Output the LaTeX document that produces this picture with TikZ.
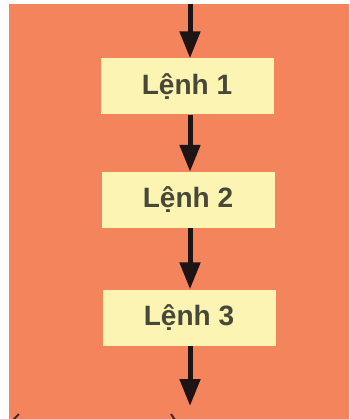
\documentclass[tikz,border=0pt]{standalone}
\usepackage{fontspec}
\setmainfont{Liberation Sans}
\usetikzlibrary{arrows.meta}
\definecolor{bgorange}{RGB}{244,132,91}
\definecolor{boxyellow}{RGB}{251,244,178}
\definecolor{txtgray}{RGB}{72,72,56}
\definecolor{arrowdark}{RGB}{30,20,20}
\begin{document}
\begin{tikzpicture}[x=1pt,y=-1pt,
  cmdbox/.style={fill=boxyellow, draw=none, minimum width=173pt, minimum height=56pt,
    inner sep=0pt, text=txtgray, font=\bfseries\fontsize{28}{30}\selectfont},
  flowarrow/.style={draw=arrowdark, line width=5pt,
    -{Triangle[width=20pt,length=27pt]}}]
\useasboundingbox (0,0) rectangle (349,419);
\fill[white] (0,0) rectangle (349,419);
\fill[bgorange] (9,4) rectangle (349,419);
\node[cmdbox] (l1) at (187,86.5) {Lệnh 1};
\node[cmdbox] (l2) at (188,200) {Lệnh 2};
\node[cmdbox] (l3) at (189,317.5) {Lệnh 3};
\coordinate (top) at (190,4);
\coordinate (bot) at (190,406);
\draw[flowarrow] (top) -- (l1.north -| top);
\draw[flowarrow] (l1.south -| top) -- (l2.north -| top);
\draw[flowarrow] (l2.south -| top) -- (l3.north -| top);
\draw[flowarrow] (l3.south -| top) -- (bot);
\coordinate (la) at (13,420);
\coordinate (lb) at (19,414);
\coordinate (ma) at (171,414);
\coordinate (mb) at (175,420);
\draw[arrowdark!80!bgorange, line width=2pt] (la) -- (lb);
\draw[arrowdark!80!bgorange, line width=2pt] (ma) -- (mb);
\end{tikzpicture}
\end{document}
